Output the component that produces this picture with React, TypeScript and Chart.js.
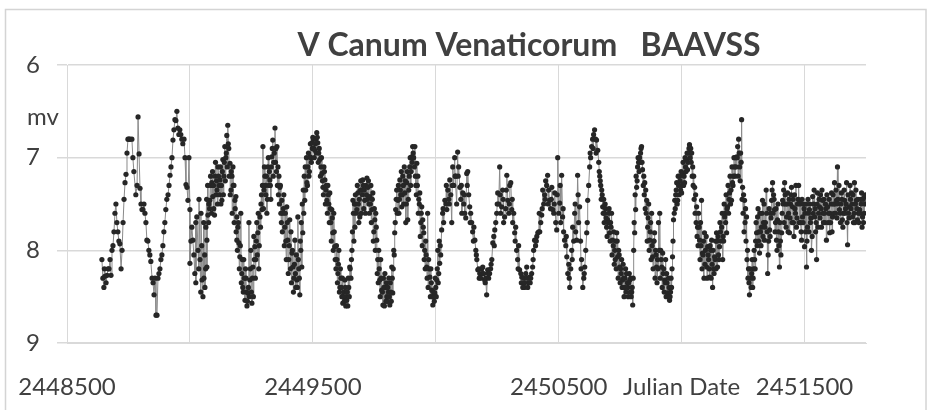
import React, { useEffect, useRef } from "react";
import { Chart, registerables } from "chart.js";

Chart.register(...registerables);

const JD0 = 2448500;
const titleText = "V Canum Venaticorum   BAAVSS";
const yAxisLabel = "mv";
const xAxisLabel = "Julian Date";
const yTicks = [6, 7, 8, 9];
const xGridTicks = [2448500, 2449000, 2449500, 2450000, 2450500, 2451000, 2451500];
const xLabelledTicks = [2448500, 2449500, 2450500, 2451500];
const xAxisLabelTick = 2451000;

// [days after JD 2448500, visual magnitude]
const cycleA: [number, number][] = [
  [142, 8.1], [146, 8.3], [150, 8.4], [154, 8.28], [159, 8.35], [163, 8.27], [167, 8.2], [175, 8.1], [179, 8.27],
  [183, 8.0], [187, 7.95], [191, 7.8], [195, 7.6], [199, 7.5], [207, 7.8], [215, 7.93], [220, 8.2], [224, 8.0],
  [232, 7.45], [236, 7.27], [240, 7.18], [244, 6.95], [248, 6.8], [256, 6.8], [264, 6.8], [272, 7.15], [280, 7.4],
  [285, 7.3], [289, 6.56], [293, 6.96], [297, 7.33], [301, 7.5], [309, 7.56], [317, 7.6], [325, 7.89], [329, 7.9],
  [337, 8.05], [341, 8.12], [346, 8.3], [350, 8.35], [354, 8.48], [358, 8.3], [362, 8.7], [366, 8.7], [370, 8.3],
  [378, 8.2], [386, 8.05], [394, 7.8], [402, 7.56], [411, 7.4], [419, 7.19], [427, 7.0], [431, 6.81], [439, 6.59],
  [447, 6.5], [451, 6.68], [459, 6.7], [467, 6.8], [476, 6.8], [480, 7.0], [484, 7.29],
];

const cycleB: [number, number][] = [
  [488, 7.32], [492, 7.46], [496, 7.0], [500, 7.56], [500, 8.14], [508, 7.75], [512, 7.89], [520, 8.25], [524, 7.7],
  [528, 7.64], [533, 8.0], [537, 7.45], [541, 8.1], [545, 7.6], [549, 8.32], [553, 8.5], [557, 8.3], [561, 8.4],
  [565, 7.75], [569, 7.89], [569, 8.18], [573, 7.62], [577, 7.5], [581, 7.46], [585, 7.3], [589, 7.27], [593, 7.42],
  [597, 7.55], [602, 7.2], [606, 7.4], [610, 7.35], [614, 7.1], [618, 7.3], [622, 7.24], [626, 7.5], [630, 7.46],
  [634, 7.02], [638, 7.2], [642, 6.88], [646, 7.0], [650, 6.76], [654, 6.65], [658, 6.9], [663, 7.06], [667, 7.35],
  [671, 7.2], [675, 7.1], [679, 7.3], [683, 7.46], [687, 7.42], [691, 7.64], [691, 7.89], [695, 7.75], [699, 7.92],
  [703, 8.07], [707, 7.6], [711, 8.25], [715, 8.4], [719, 8.1], [724, 8.54], [728, 8.3], [732, 8.6], [736, 8.46],
];

const cycleC: [number, number][] = [
  [740, 7.7], [744, 8.32], [748, 8.0], [752, 8.57], [756, 8.18], [760, 7.85], [764, 7.96], [768, 8.1], [772, 7.7],
  [776, 7.81], [780, 8.2], [785, 7.64], [789, 7.5], [793, 7.56], [797, 6.88], [801, 7.35], [805, 7.2], [809, 7.4],
  [813, 7.6], [817, 7.1], [821, 7.3], [825, 7.24], [829, 7.45], [833, 6.99], [837, 6.81], [841, 7.05], [846, 6.68],
  [850, 6.9], [854, 6.88], [858, 7.1], [862, 7.2], [866, 7.32], [870, 7.6], [874, 7.46], [878, 7.6], [882, 7.4],
  [886, 7.75], [890, 7.9], [894, 7.53], [898, 7.89], [902, 8.1], [906, 7.67], [911, 7.8], [915, 8.03], [919, 8.18],
  [923, 8.3], [927, 7.89], [931, 8.4], [935, 8.32], [939, 7.64], [943, 8.2], [947, 8.48], [951, 8.0], [955, 8.18],
  [959, 7.81], [963, 7.6], [967, 7.46], [971, 7.35], [976, 7.27], [980, 7.1], [984, 7.2], [988, 6.99], [992, 7.0],
  [996, 6.84], [1000, 6.78],
];

const cycleD: [number, number][] = [
  [1004, 6.9], [1008, 6.92], [1012, 6.8], [1016, 6.73], [1020, 6.84], [1024, 6.95], [1028, 7.02], [1033, 7.1],
  [1037, 7.17], [1041, 7.32], [1045, 7.1], [1049, 7.24], [1053, 7.35], [1057, 7.46], [1061, 7.3], [1065, 7.5],
  [1069, 7.38], [1073, 7.7], [1077, 7.56], [1081, 7.81], [1085, 7.6], [1089, 7.96], [1094, 8.2], [1098, 8.1],
  [1102, 8.25], [1106, 8.0], [1110, 8.4], [1114, 8.3], [1118, 8.5], [1122, 8.57], [1126, 8.45], [1130, 8.32],
  [1134, 8.6], [1138, 8.54], [1142, 8.6], [1146, 8.4], [1150, 8.18], [1155, 8.3], [1159, 8.0], [1163, 7.46],
  [1167, 7.9], [1171, 7.75], [1175, 7.5], [1179, 7.56], [1183, 7.38], [1187, 7.7], [1191, 7.64], [1195, 7.25],
  [1199, 7.35], [1203, 7.24], [1207, 7.55], [1211, 7.46], [1216, 7.3], [1220, 7.22], [1224, 7.32], [1228, 7.5],
  [1232, 7.42], [1236, 7.3], [1240, 7.56], [1244, 7.38], [1248, 7.8], [1252, 7.67], [1256, 7.6], [1260, 7.89],
  [1264, 8.1],
];

const cycleE: [number, number][] = [
  [1268, 8.0], [1272, 8.32], [1276, 8.1], [1280, 8.43], [1285, 8.59], [1289, 8.4], [1293, 8.25], [1297, 8.55],
  [1301, 8.5], [1305, 8.4], [1309, 8.3], [1313, 8.59], [1317, 8.45], [1321, 8.18], [1325, 8.46], [1329, 8.0],
  [1333, 7.81], [1337, 7.56], [1341, 7.35], [1346, 7.46], [1350, 7.6], [1354, 7.24], [1358, 7.4], [1362, 7.53],
  [1366, 7.2], [1370, 7.5], [1374, 7.38], [1378, 7.7], [1382, 7.27], [1386, 7.67], [1390, 7.35], [1394, 7.1],
  [1398, 7.3], [1402, 6.99], [1406, 6.88], [1410, 7.0], [1415, 6.88], [1419, 7.3], [1423, 7.06], [1427, 7.2],
  [1431, 7.45], [1435, 7.38], [1439, 7.7], [1443, 7.53], [1447, 7.67], [1451, 7.81], [1455, 8.0], [1459, 7.9],
  [1463, 8.18], [1467, 7.6], [1471, 8.1], [1476, 8.29], [1480, 8.2], [1484, 8.43], [1488, 8.59], [1492, 8.5],
  [1496, 8.46], [1500, 8.4], [1504, 8.32], [1508, 8.0], [1512, 8.25], [1516, 8.14], [1520, 8.05],
];

const cycleF: [number, number][] = [
  [1524, 7.78], [1528, 7.6], [1532, 7.7], [1537, 7.46], [1541, 7.5], [1545, 7.56], [1549, 7.35], [1553, 7.45],
  [1557, 7.24], [1561, 7.4], [1565, 7.7], [1569, 7.1], [1573, 7.3], [1577, 7.0], [1581, 7.2], [1585, 7.5],
  [1589, 6.94], [1593, 7.1], [1598, 7.32], [1602, 7.45], [1606, 7.6], [1610, 7.38], [1614, 7.5], [1618, 7.6],
  [1622, 7.65], [1626, 7.17], [1630, 7.15], [1634, 7.4], [1638, 7.53], [1642, 7.6], [1646, 7.7], [1650, 7.8],
  [1655, 7.75], [1659, 7.89], [1663, 8.0], [1667, 8.1], [1671, 8.21], [1675, 8.2], [1679, 8.25], [1683, 8.3],
  [1687, 8.2], [1691, 8.18], [1695, 8.25], [1699, 8.32], [1703, 8.3], [1707, 8.48], [1711, 8.21], [1715, 8.3],
  [1719, 8.25], [1723, 8.2], [1728, 8.1], [1732, 7.92], [1736, 7.85], [1740, 7.78], [1744, 7.7], [1748, 7.6],
  [1752, 7.38], [1756, 7.5], [1760, 7.1], [1764, 7.6], [1768, 7.53], [1772, 7.35], [1776, 7.7], [1780, 7.64],
  [1785, 7.55], [1789, 7.19], [1793, 7.46], [1797, 7.6], [1801, 7.3], [1805, 7.27], [1809, 7.56], [1813, 7.7],
  [1817, 7.6], [1821, 7.81], [1825, 7.75], [1829, 8.0], [1833, 8.1], [1837, 7.95], [1841, 8.21], [1846, 8.25],
  [1850, 8.29], [1854, 8.4], [1858, 8.3], [1862, 8.35], [1866, 8.25], [1870, 8.18], [1874, 8.4], [1878, 8.35],
  [1882, 8.29], [1886, 8.3], [1890, 8.25], [1894, 8.18], [1898, 8.0], [1902, 7.89], [1906, 7.95], [1911, 7.85],
  [1915, 7.81], [1919, 7.8], [1923, 7.8], [1927, 7.7], [1931, 7.62], [1935, 7.35], [1939, 7.5], [1943, 7.4],
  [1947, 7.25], [1951, 7.3], [1955, 7.19], [1959, 7.35], [1963, 7.46], [1967, 7.55], [1972, 7.32], [1976, 7.56],
  [1980, 7.6], [1984, 7.38], [1988, 7.7], [1992, 7.78], [1996, 7.0],
];

const cycleG: [number, number][] = [
  [2000, 7.6], [2004, 7.49], [2008, 7.7], [2012, 7.19], [2016, 7.64], [2020, 7.8], [2024, 7.89], [2029, 7.95],
  [2033, 8.07], [2037, 8.25], [2041, 8.15], [2045, 8.4], [2049, 8.2], [2053, 8.0], [2057, 7.75], [2061, 7.9],
  [2065, 7.6], [2069, 7.8], [2073, 7.89], [2077, 7.19], [2081, 7.7], [2085, 7.53], [2089, 7.9], [2093, 8.1],
  [2098, 8.4], [2102, 8.3], [2106, 8.18], [2110, 8.0], [2114, 7.81], [2118, 7.46], [2122, 7.3], [2126, 7.1],
  [2130, 7.0], [2134, 6.88], [2138, 6.8], [2142, 6.75], [2146, 6.7], [2150, 6.8], [2154, 6.81], [2159, 6.92],
  [2163, 7.05], [2167, 7.2], [2171, 7.3], [2175, 7.35], [2179, 7.53], [2183, 7.45], [2187, 7.6], [2191, 7.55],
  [2195, 7.75], [2199, 7.67], [2203, 7.6], [2207, 7.81], [2211, 7.7], [2215, 7.6], [2219, 7.89], [2224, 7.8],
  [2228, 8.0], [2232, 7.9], [2236, 7.81], [2240, 8.07], [2244, 8.0], [2248, 8.18], [2252, 8.2], [2256, 8.1],
  [2260, 8.32], [2264, 8.3], [2268, 8.4], [2272, 8.2], [2276, 8.25], [2281, 8.4], [2285, 8.35], [2289, 8.32],
  [2293, 8.3], [2297, 8.45], [2301, 8.59], [2305, 8.0], [2309, 7.81], [2313, 7.56], [2317, 7.32], [2321, 7.1],
  [2325, 7.05], [2329, 7.0], [2333, 6.95], [2337, 6.88], [2341, 7.13], [2346, 7.2], [2350, 7.27], [2354, 7.35],
  [2358, 7.46], [2362, 7.75], [2366, 7.5], [2370, 7.89], [2374, 7.7], [2378, 7.6], [2382, 8.07], [2386, 7.9],
  [2390, 7.81], [2394, 8.0], [2398, 8.18], [2402, 8.1], [2406, 7.7], [2411, 7.6], [2415, 8.0], [2419, 8.18],
  [2423, 8.03], [2427, 8.2], [2431, 8.32], [2435, 8.1], [2439, 8.25], [2443, 8.46], [2447, 8.3], [2451, 8.54],
  [2455, 8.45], [2459, 8.4], [2463, 8.07], [2467, 7.67], [2472, 7.46], [2476, 7.4], [2480, 7.27], [2484, 7.46],
  [2488, 7.3], [2492, 7.2], [2496, 7.35], [2500, 7.38],
];

const cycleH: [number, number][] = [
  [2504, 7.17], [2508, 7.3], [2512, 7.27], [2516, 7.1], [2520, 7.02], [2524, 7.13], [2528, 6.95], [2532, 6.86],
  [2537, 6.9], [2541, 6.95], [2545, 7.1], [2549, 7.2], [2553, 7.32], [2557, 7.4], [2561, 7.53], [2565, 7.75],
  [2569, 7.6], [2573, 7.89], [2577, 7.7], [2581, 7.46], [2585, 8.03], [2589, 7.9], [2593, 7.81], [2597, 8.0],
  [2602, 8.18], [2606, 7.96], [2610, 8.1], [2614, 8.29], [2618, 8.0], [2622, 7.89], [2626, 8.4], [2630, 8.2],
  [2634, 8.07], [2638, 7.9], [2642, 7.81], [2646, 8.18], [2650, 8.05], [2654, 7.96], [2658, 7.8], [2663, 7.75],
  [2667, 8.1], [2671, 7.9], [2675, 7.64], [2679, 7.7], [2683, 7.81], [2687, 7.53], [2691, 7.6], [2695, 7.38],
  [2699, 7.5], [2703, 7.46], [2707, 7.27], [2711, 7.2], [2715, 7.1], [2719, 7.0], [2724, 6.99], [2728, 6.88],
  [2732, 6.8], [2736, 7.1], [2740, 6.95], [2744, 6.59], [2748, 7.32], [2752, 7.4], [2756, 7.46], [2760, 7.55],
  [2764, 7.64], [2768, 8.0], [2772, 8.2], [2776, 8.48], [2780, 8.3], [2785, 8.25], [2789, 8.4], [2793, 8.2],
  [2797, 8.1], [2801, 7.9], [2805, 7.81], [2809, 7.64], [2813, 7.9], [2817, 8.03], [2821, 7.8], [2825, 7.75],
  [2829, 7.46], [2833, 7.7], [2837, 7.89], [2841, 7.7], [2846, 7.6], [2850, 8.25], [2854, 7.9], [2858, 7.78],
  [2862, 7.6], [2866, 7.46], [2870, 7.27], [2874, 7.4], [2878, 7.56], [2882, 7.7], [2886, 7.89], [2890, 7.67],
  [2894, 7.8], [2898, 8.18], [2902, 7.9], [2907, 7.81], [2911, 7.46], [2915, 7.35], [2919, 7.27], [2923, 7.5],
  [2927, 7.64], [2931, 7.38], [2935, 7.6], [2939, 7.81], [2943, 7.5], [2947, 7.32], [2951, 7.53], [2955, 7.7],
  [2959, 7.4], [2963, 7.6], [2967, 7.75], [2971, 7.5], [2976, 7.3], [2980, 7.46], [2984, 7.7], [2988, 7.89],
  [2992, 7.64], [2996, 7.5],
];

const cycleI: [number, number][] = [
  [3000, 7.96], [3004, 7.8], [3008, 8.18], [3012, 7.75], [3016, 7.6], [3020, 7.56], [3024, 7.7], [3028, 8.0],
  [3033, 7.42], [3037, 7.5], [3041, 7.64], [3045, 7.8], [3049, 8.1], [3053, 7.38], [3057, 7.6], [3061, 7.53],
  [3065, 7.4], [3069, 7.75], [3073, 7.46], [3077, 7.7], [3081, 7.6], [3085, 7.5], [3089, 7.89], [3094, 7.53],
  [3098, 7.6], [3102, 7.81], [3106, 7.7], [3110, 7.38], [3114, 7.64], [3118, 7.5], [3122, 7.27], [3126, 7.6],
  [3130, 7.46], [3134, 7.1], [3138, 7.5], [3142, 7.56], [3146, 7.7], [3150, 7.38], [3154, 7.67], [3158, 7.6],
  [3163, 7.46], [3167, 7.55], [3171, 7.27], [3175, 7.94], [3179, 7.6], [3183, 7.53], [3187, 7.45], [3191, 7.38],
  [3195, 7.64], [3199, 7.7], [3203, 7.27], [3207, 7.5], [3211, 7.46], [3215, 7.67], [3219, 7.6], [3224, 7.56],
  [3228, 7.45], [3232, 7.38], [3236, 7.64], [3240, 7.7], [3244, 7.42], [3248, 7.4],
];

// further estimates read from the densest clusters
const moreA: [number, number][] = [
  [152, 8.2], [171, 8.2], [203, 7.7], [211, 7.9], [228, 7.7], [252, 6.8], [268, 7.0], [305, 7.56], [313, 7.5],
  [321, 7.7], [333, 8.0], [374, 8.25], [382, 8.1], [390, 7.95], [398, 7.7], [406, 7.45], [415, 7.3], [423, 7.1],
  [435, 6.7], [443, 6.6], [455, 6.75], [463, 6.75], [471, 6.85],
];

const moreB: [number, number][] = [
  [504, 7.9], [516, 8.05], [524, 8.35], [536, 8.2], [544, 8.45], [548, 7.95], [556, 7.7], [560, 8.05], [564, 8.2],
  [568, 7.45], [572, 7.3], [576, 7.7], [580, 7.55], [584, 7.2], [588, 7.6], [592, 7.15], [596, 7.3], [600, 7.62],
  [604, 7.05], [608, 7.25], [612, 7.5], [616, 7.2], [620, 7.4], [624, 7.1], [628, 7.3], [632, 7.15], [636, 7.4],
  [640, 7.05], [644, 7.25], [648, 6.95], [652, 7.1], [656, 6.85], [660, 7.2], [664, 7.4], [668, 7.15], [672, 7.6],
  [676, 7.3], [680, 7.7], [684, 7.55], [688, 7.8], [693, 8.0], [697, 7.7], [701, 8.2], [705, 7.95], [709, 8.35],
  [713, 8.1], [717, 8.45], [721, 8.3], [726, 8.2], [730, 8.45], [734, 8.55],
];

const moreC: [number, number][] = [
  [738, 8.4], [742, 8.5], [746, 8.2], [750, 8.45], [754, 8.3], [758, 8.5], [762, 8.1], [766, 8.3], [770, 7.9],
  [774, 8.05], [778, 7.6], [782, 7.95], [787, 7.75], [791, 7.4], [795, 7.3], [799, 7.55], [803, 7.1], [807, 7.3],
  [811, 7.2], [815, 7.45], [819, 7.0], [823, 7.15], [827, 7.3], [831, 7.1], [835, 6.9], [839, 7.2], [843, 6.95],
  [848, 7.05], [852, 7.15], [856, 7.3], [860, 7.4], [864, 7.5], [868, 7.3], [872, 7.7], [876, 7.8], [880, 7.55],
  [884, 7.95], [888, 7.6], [892, 8.1], [896, 7.7], [900, 8.25], [904, 7.95], [909, 8.2], [913, 8.35], [917, 8.0],
  [921, 8.45], [925, 8.15], [929, 8.25], [933, 8.05], [937, 8.4], [941, 8.1], [945, 8.3], [949, 7.9], [953, 7.7],
  [957, 7.5], [961, 7.35], [965, 7.2], [969, 7.1], [974, 7.0], [978, 7.3], [982, 6.95], [986, 7.15], [990, 6.85],
  [994, 7.05], [998, 6.9],
];

const moreD: [number, number][] = [
  [1002, 6.8], [1006, 7.0], [1010, 6.85], [1014, 6.95], [1018, 6.78], [1022, 7.05], [1026, 6.9], [1031, 7.2],
  [1035, 7.0], [1039, 7.25], [1043, 7.4], [1047, 7.15], [1051, 7.5], [1055, 7.3], [1059, 7.6], [1063, 7.4],
  [1067, 7.7], [1071, 7.55], [1075, 7.9], [1079, 7.65], [1083, 8.0], [1087, 7.8], [1091, 8.1], [1096, 7.95],
  [1100, 8.35], [1104, 8.15], [1108, 8.45], [1112, 8.2], [1116, 8.4], [1120, 8.3], [1124, 8.5], [1128, 8.55],
  [1132, 8.4], [1136, 8.5], [1140, 8.45], [1144, 8.3], [1148, 8.5], [1152, 8.2], [1157, 8.1], [1161, 7.8],
  [1165, 7.6], [1169, 7.5], [1173, 7.4], [1177, 7.6], [1181, 7.3], [1185, 7.5], [1189, 7.45], [1193, 7.35],
  [1197, 7.6], [1201, 7.4], [1205, 7.3], [1209, 7.35], [1214, 7.6], [1218, 7.4], [1222, 7.45], [1226, 7.25],
  [1230, 7.6], [1234, 7.5], [1238, 7.7], [1242, 7.45], [1246, 7.9], [1250, 7.55], [1254, 8.0], [1258, 7.75],
  [1262, 8.25],
];

const moreE: [number, number][] = [
  [1266, 8.35], [1270, 8.2], [1274, 8.5], [1278, 8.3], [1283, 8.45], [1287, 8.3], [1291, 8.6], [1295, 8.4],
  [1299, 8.35], [1303, 8.55], [1307, 8.45], [1311, 8.5], [1315, 8.35], [1319, 8.55], [1323, 8.3], [1327, 8.2],
  [1331, 8.05], [1335, 7.7], [1339, 7.45], [1343, 7.6], [1348, 7.3], [1352, 7.45], [1356, 7.35], [1360, 7.15],
  [1364, 7.4], [1368, 7.3], [1372, 7.1], [1376, 7.25], [1380, 7.5], [1384, 7.15], [1388, 7.45], [1392, 7.2],
  [1396, 7.0], [1400, 7.15], [1404, 7.05], [1408, 6.95], [1413, 7.1], [1417, 7.2], [1421, 7.4], [1425, 7.3],
  [1429, 7.6], [1433, 7.5], [1437, 7.85], [1441, 7.6], [1445, 7.95], [1449, 7.75], [1453, 8.1], [1457, 8.2],
  [1461, 8.05], [1465, 8.3], [1469, 8.4], [1473, 8.2], [1478, 8.5], [1482, 8.35], [1486, 8.5], [1490, 8.45],
  [1494, 8.55], [1498, 8.3], [1502, 8.5], [1506, 8.2], [1510, 8.35], [1514, 7.9], [1518, 7.95],
];

const moreF: [number, number][] = [
  [1530, 7.55], [1543, 7.3], [1555, 7.5], [1567, 7.3], [1579, 7.2], [1591, 7.2], [1604, 7.3], [1616, 7.4],
  [1628, 7.3], [1640, 7.7], [1653, 7.9], [1665, 8.05], [1677, 8.3], [1689, 8.25], [1701, 8.35], [1713, 8.25],
  [1725, 8.15], [1738, 7.95], [1750, 7.5], [1762, 7.4], [1774, 7.45], [1787, 7.35], [1799, 7.5], [1811, 7.45],
  [1823, 7.9], [1835, 8.2], [1848, 8.35], [1860, 8.4], [1872, 8.3], [1884, 8.35], [1896, 8.1], [1909, 7.9],
  [1921, 7.6], [1933, 7.55], [1945, 7.45], [1957, 7.5], [1970, 7.45], [1982, 7.5], [1994, 7.4],
];

const moreG: [number, number][] = [
  [2006, 7.3], [2018, 7.55], [2031, 7.85], [2043, 8.3], [2055, 8.1], [2067, 7.5], [2079, 7.4], [2091, 8.2],
  [2104, 8.25], [2116, 7.7], [2128, 6.95], [2140, 6.9], [2152, 6.95], [2165, 7.15], [2169, 7.25], [2173, 7.45],
  [2177, 7.4], [2181, 7.6], [2185, 7.7], [2189, 7.5], [2193, 7.65], [2197, 7.85], [2201, 7.7], [2205, 7.55],
  [2209, 7.9], [2213, 7.75], [2217, 8.05], [2222, 7.95], [2226, 8.15], [2230, 8.1], [2234, 8.2], [2238, 7.9],
  [2242, 8.3], [2246, 8.05], [2250, 8.35], [2254, 8.25], [2258, 8.4], [2262, 8.15], [2266, 8.5], [2270, 8.3],
  [2274, 8.45], [2279, 8.35], [2283, 8.5], [2287, 8.25], [2291, 8.45], [2295, 8.5], [2299, 8.4], [2303, 8.3],
  [2307, 7.7], [2311, 7.4], [2315, 7.2], [2319, 7.25], [2323, 7.0], [2327, 7.15], [2331, 7.05], [2335, 6.9],
  [2339, 7.05], [2344, 7.3], [2348, 7.4], [2352, 7.55], [2356, 7.6], [2360, 7.9], [2364, 7.65], [2368, 8.0],
  [2372, 7.8], [2376, 8.1], [2380, 7.95], [2384, 8.2], [2388, 7.9], [2392, 8.3], [2396, 8.05], [2400, 8.35],
  [2404, 8.2], [2409, 8.0], [2413, 8.3], [2417, 8.1], [2421, 8.4], [2425, 8.25], [2429, 8.45], [2433, 8.35],
  [2437, 8.5], [2441, 8.35], [2445, 8.5], [2449, 8.4], [2453, 8.5], [2457, 8.3], [2461, 8.2], [2465, 7.9],
  [2470, 7.6], [2474, 7.55], [2478, 7.35], [2482, 7.5], [2486, 7.2], [2490, 7.4],
];

const moreH: [number, number][] = [
  [2494, 7.25], [2498, 7.15], [2502, 7.3], [2506, 7.05], [2510, 7.2], [2514, 7.0], [2518, 7.15], [2522, 6.95],
  [2526, 7.05], [2530, 6.9], [2535, 7.0], [2539, 7.05], [2543, 7.2], [2547, 7.3], [2551, 7.45], [2555, 7.6],
  [2559, 7.7], [2563, 7.85], [2567, 7.95], [2571, 7.75], [2575, 8.1], [2579, 7.95], [2583, 8.2], [2587, 8.05],
  [2591, 8.3], [2595, 8.15], [2600, 7.85], [2604, 8.3], [2608, 8.05], [2612, 8.2], [2616, 7.95], [2620, 8.3],
  [2624, 8.15], [2628, 8.0], [2632, 8.25], [2636, 8.1], [2640, 8.2], [2644, 7.9], [2648, 7.85], [2652, 8.1],
  [2656, 7.7], [2660, 7.9], [2665, 7.6], [2669, 7.85], [2673, 7.5], [2677, 7.6], [2681, 7.4], [2685, 7.55],
  [2689, 7.3], [2693, 7.45], [2697, 7.2], [2701, 7.35], [2705, 7.1], [2709, 7.3], [2713, 7.0], [2717, 7.2],
  [2721, 7.1], [2726, 7.0], [2730, 7.2], [2734, 6.95], [2738, 7.25], [2742, 7.05], [2746, 7.45], [2750, 7.6],
  [2754, 7.8], [2758, 7.7], [2762, 7.9], [2766, 8.1], [2770, 8.3], [2774, 8.35], [2778, 8.2], [2783, 8.4],
  [2787, 8.1], [2791, 8.3], [2795, 8.0], [2799, 8.2], [2803, 7.7], [2807, 7.95], [2811, 7.55], [2815, 7.8],
  [2819, 7.6], [2823, 7.95], [2827, 7.6], [2831, 7.85], [2835, 7.5], [2839, 7.75], [2844, 7.35], [2848, 7.8],
  [2852, 8.05], [2856, 7.55], [2860, 7.85], [2864, 7.65], [2868, 7.35], [2872, 7.6], [2876, 7.45], [2880, 7.8],
  [2884, 7.55], [2888, 8.0], [2892, 7.5], [2896, 7.95], [2900, 7.7], [2904, 8.05], [2909, 7.6], [2913, 7.5],
  [2917, 7.7], [2921, 7.4], [2925, 7.75], [2929, 7.5], [2933, 7.8], [2937, 7.45], [2941, 7.65], [2945, 7.4],
  [2949, 7.7], [2953, 7.45], [2957, 7.85], [2961, 7.55], [2965, 7.3], [2969, 7.65], [2974, 7.45], [2978, 7.7],
  [2982, 7.5], [2986, 7.8], [2990, 7.45], [2994, 7.7], [2998, 7.55],
];

const moreI: [number, number][] = [
  [3002, 7.6], [3006, 7.5], [3010, 7.9], [3014, 7.45], [3018, 7.8], [3022, 7.5], [3026, 7.65], [3031, 7.85],
  [3035, 7.6], [3039, 7.35], [3043, 7.55], [3047, 7.7], [3051, 7.5], [3055, 7.75], [3059, 7.45], [3063, 7.65],
  [3067, 7.55], [3071, 7.35], [3075, 7.6], [3079, 7.45], [3083, 7.7], [3087, 7.55], [3091, 7.4], [3096, 7.7],
  [3100, 7.45], [3104, 7.6], [3108, 7.5], [3112, 7.8], [3116, 7.4], [3120, 7.6], [3124, 7.5], [3128, 7.35],
  [3132, 7.65], [3136, 7.45], [3140, 7.3], [3144, 7.6], [3148, 7.5], [3152, 7.45], [3156, 7.75], [3161, 7.35],
  [3165, 7.6], [3169, 7.5], [3173, 7.7], [3177, 7.4], [3181, 7.65], [3185, 7.3], [3189, 7.55], [3193, 7.5],
  [3197, 7.4], [3201, 7.6], [3205, 7.7], [3209, 7.35], [3213, 7.55], [3217, 7.45], [3221, 7.7], [3226, 7.6],
  [3230, 7.5], [3234, 7.75], [3238, 7.45], [3242, 7.6], [3246, 7.5],
];

const observations = [
  cycleA, cycleB, cycleC, cycleD, cycleE, cycleF, cycleG, cycleH, cycleI,
  moreA, moreB, moreC, moreD, moreE, moreF, moreG, moreH, moreI,
];

const FONT = "Lato, 'Open Sans', sans-serif";
const TEXT_COLOR = "#404040";
const GRID_COLOR = "#d9d9d9";

const decorPlugin = {
  id: "decor",
  beforeDraw(chart: any) {
    const { ctx, width, height } = chart;
    ctx.save();
    ctx.fillStyle = "#ffffff";
    ctx.fillRect(0, 0, width, height);
    ctx.restore();
  },
  afterDraw(chart: any) {
    const { ctx, chartArea } = chart;
    ctx.save();
    ctx.strokeStyle = "#d4d4d4";
    ctx.lineWidth = 1.5;
    ctx.strokeRect(5.5, 9.5, 920.5, 420);
    ctx.fillStyle = TEXT_COLOR;
    ctx.font = `bold 32px ${FONT}`;
    ctx.textAlign = "center";
    ctx.textBaseline = "alphabetic";
    ctx.fillText(titleText, chartArea.left + 462, 56);
    ctx.font = `24px ${FONT}`;
    ctx.textAlign = "left";
    ctx.textBaseline = "middle";
    ctx.fillText(yAxisLabel, 27, chartArea.top + 52);
    ctx.restore();
  },
};

export default function App() {
  const canvasRef = useRef<HTMLCanvasElement | null>(null);

  useEffect(() => {
    if (!canvasRef.current) return;
    const points = observations
      .flat()
      .slice()
      .sort((a, b) => a[0] - b[0])
      .map(([d, m]) => ({ x: JD0 + d, y: m }));
    const chart = new Chart(canvasRef.current, {
      type: "scatter",
      data: {
        datasets: [
          {
            data: points,
            showLine: true,
            borderColor: "#8a8a8a",
            borderWidth: 1,
            pointRadius: 2.6,
            pointBorderWidth: 0,
            pointBackgroundColor: "#262626",
            pointHoverRadius: 2.6,
          },
        ],
      },
      options: {
        responsive: false,
        animation: false,
        layout: { padding: { left: 0, right: 64, top: 65, bottom: 0 } },
        plugins: {
          legend: { display: false },
          tooltip: { enabled: false },
          title: { display: false },
        },
        scales: {
          x: {
            type: "linear",
            min: JD0,
            max: 2451750,
            afterBuildTicks: (s: any) => {
              s.ticks = xGridTicks.map((v) => ({ value: v }));
            },
            afterFit: (s: any) => {
              s.height = 67;
              s.paddingLeft = 0;
              s.paddingRight = 0;
            },
            grid: { color: GRID_COLOR, lineWidth: 1, drawTicks: false },
            border: { color: GRID_COLOR },
            ticks: {
              autoSkip: false,
              maxRotation: 0,
              padding: 30,
              color: TEXT_COLOR,
              font: { family: FONT, size: 24 },
              callback: (v: any) => {
                const n = Number(v);
                if (n === xAxisLabelTick) return xAxisLabel;
                return xLabelledTicks.includes(n) ? String(n) : "";
              },
            },
          },
          y: {
            reverse: true,
            min: 6,
            max: 9,
            afterBuildTicks: (s: any) => {
              s.ticks = yTicks.map((v) => ({ value: v }));
            },
            afterFit: (s: any) => {
              s.width = 67;
            },
            grid: { color: GRID_COLOR, lineWidth: 1.5, tickLength: 10 },
            border: { color: GRID_COLOR },
            ticks: {
              padding: 17,
              color: TEXT_COLOR,
              font: { family: FONT, size: 24 },
              callback: (v: any) => String(v),
            },
          },
        },
      },
      plugins: [decorPlugin],
    });
    return () => chart.destroy();
  }, []);

  return (
    <div style={{ position: "fixed", left: 0, top: 0, width: 930, height: 410, background: "#fff" }}>
      <canvas ref={canvasRef} width={930} height={410} style={{ display: "block" }} />
    </div>
  );
}
